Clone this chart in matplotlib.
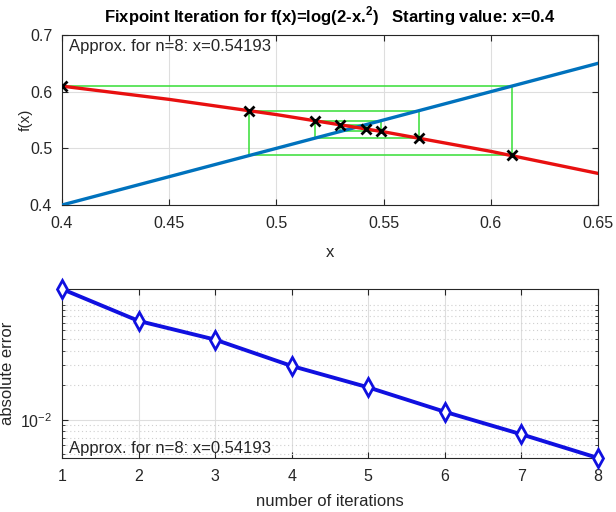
import matplotlib
matplotlib.use("Agg")
import matplotlib.pyplot as plt
from matplotlib.ticker import FixedLocator, NullFormatter, LogFormatterMathtext

plt.rcParams['font.family'] = ['Liberation Sans', 'DejaVu Sans']
plt.rcParams['mathtext.fontset'] = 'custom'
plt.rcParams['mathtext.rm'] = 'Liberation Sans'
plt.rcParams['mathtext.bf'] = 'Liberation Sans:bold'

# iterates x_0 .. x_8 of x_{n+1} = log(2 - x_n^2)
x_iter = [0.4, 0.60977, 0.48746, 0.56667, 0.51813, 0.54901, 0.52980, 0.54193, 0.53434]
# sampled points of f(x) = log(2 - x^2)
curve_x = [0.40, 0.45, 0.50, 0.55, 0.60, 0.65]
curve_y = [0.6098, 0.5864, 0.5596, 0.5292, 0.4947, 0.4558]
diag_x = [0.4, 0.65]
# absolute error per iteration
n_iter = [1, 2, 3, 4, 5, 6, 7, 8]
abs_err = [0.137274, 0.072496, 0.049810, 0.029392, 0.019142, 0.011736, 0.007477, 0.004652]
approx_txt = 'Approx. for n=8: x=0.54193'

fig = plt.figure(figsize=(6.16, 5.12), dpi=100)
ax1 = fig.add_axes([0.1006, 0.5996, 0.8701, 0.332])
ax2 = fig.add_axes([0.1006, 0.1055, 0.8701, 0.330])

grid_c = '#dedede'
axis_c = '#262626'

# cobweb path
cx, cy = [x_iter[0]], [x_iter[1]]
for k in range(1, len(x_iter) - 1):
    cx += [x_iter[k], x_iter[k]]
    cy += [x_iter[k], x_iter[k + 1]]

ax1.plot(cx, cy, color='#45e045', lw=1.2, zorder=2)
ax1.plot(diag_x, diag_x, color='#0072bd', lw=2.4, zorder=3)
ax1.plot(curve_x, curve_y, color='#e81010', lw=2.4, zorder=4)
ax1.plot(x_iter[:-1], x_iter[1:], 'x', color='k', ms=7, mew=2, zorder=5)

ax1.set_xlim(0.4, 0.65)
ax1.set_ylim(0.4, 0.7)
ax1.set_xticks([0.4, 0.45, 0.5, 0.55, 0.6, 0.65])
ax1.set_xticklabels(['0.4', '0.45', '0.5', '0.55', '0.6', '0.65'])
ax1.set_yticks([0.4, 0.5, 0.6, 0.7])
ax1.set_yticklabels(['0.4', '0.5', '0.6', '0.7'])
ax1.grid(True, color=grid_c, lw=0.8)
ax1.set_axisbelow(True)
ax1.set_xlabel('x', fontsize=12, color=axis_c, labelpad=10)
ax1.set_ylabel('f(x)', fontsize=11, color=axis_c)
ax1.yaxis.set_label_coords(-0.054, 0.5)
ax1.set_title(r'Fixpoint Iteration for f(x)=log(2-x.$^{\mathbf{2}}$)   Starting value: x=0.4',
              fontsize=12, fontweight='bold', pad=9)
ax1.text(0.013, 0.975, approx_txt, transform=ax1.transAxes, fontsize=12,
         va='top', ha='left', color=axis_c)

ax2.semilogy(n_iter, abs_err, '-d', color='#1010e0', lw=2.8, ms=9,
             mfc='white', mew=2, zorder=4, clip_on=False)
ax2.set_xlim(1, 8)
ax2.set_ylim(abs_err[-1], abs_err[0])
ax2.set_xticks(n_iter)
ax2.yaxis.set_major_locator(FixedLocator([1e-2]))
ax2.yaxis.set_major_formatter(LogFormatterMathtext())
minor = [m * 1e-3 for m in range(2, 10)] + [m * 1e-2 for m in range(2, 10)] + [1e-1]
ax2.yaxis.set_minor_locator(FixedLocator(minor))
ax2.yaxis.set_minor_formatter(NullFormatter())
ax2.grid(True, which='major', color=grid_c, lw=0.8)
ax2.grid(True, which='minor', axis='y', color='#cfcfcf', lw=0.8, ls=(0, (1, 2.5)))
ax2.set_axisbelow(True)
ax2.set_xlabel('number of iterations', fontsize=12, color=axis_c, labelpad=7)
ax2.set_ylabel('absolute error', fontsize=12, color=axis_c, labelpad=4)
ax2.text(0.013, 0.012, approx_txt, transform=ax2.transAxes, fontsize=12,
         va='bottom', ha='left', color=axis_c, zorder=3)

for ax in (ax1, ax2):
    ax.tick_params(which='both', direction='in', top=True, right=True,
                   labelsize=11.5, colors=axis_c)
    ax.tick_params(which='major', length=4)
    ax.tick_params(which='minor', length=2)
    ax.tick_params(axis='x', pad=8)
    ax.tick_params(axis='y', pad=7)
    for s in ax.spines.values():
        s.set_color(axis_c)
        s.set_linewidth(0.8)

fig.savefig('out.png', dpi=100)
